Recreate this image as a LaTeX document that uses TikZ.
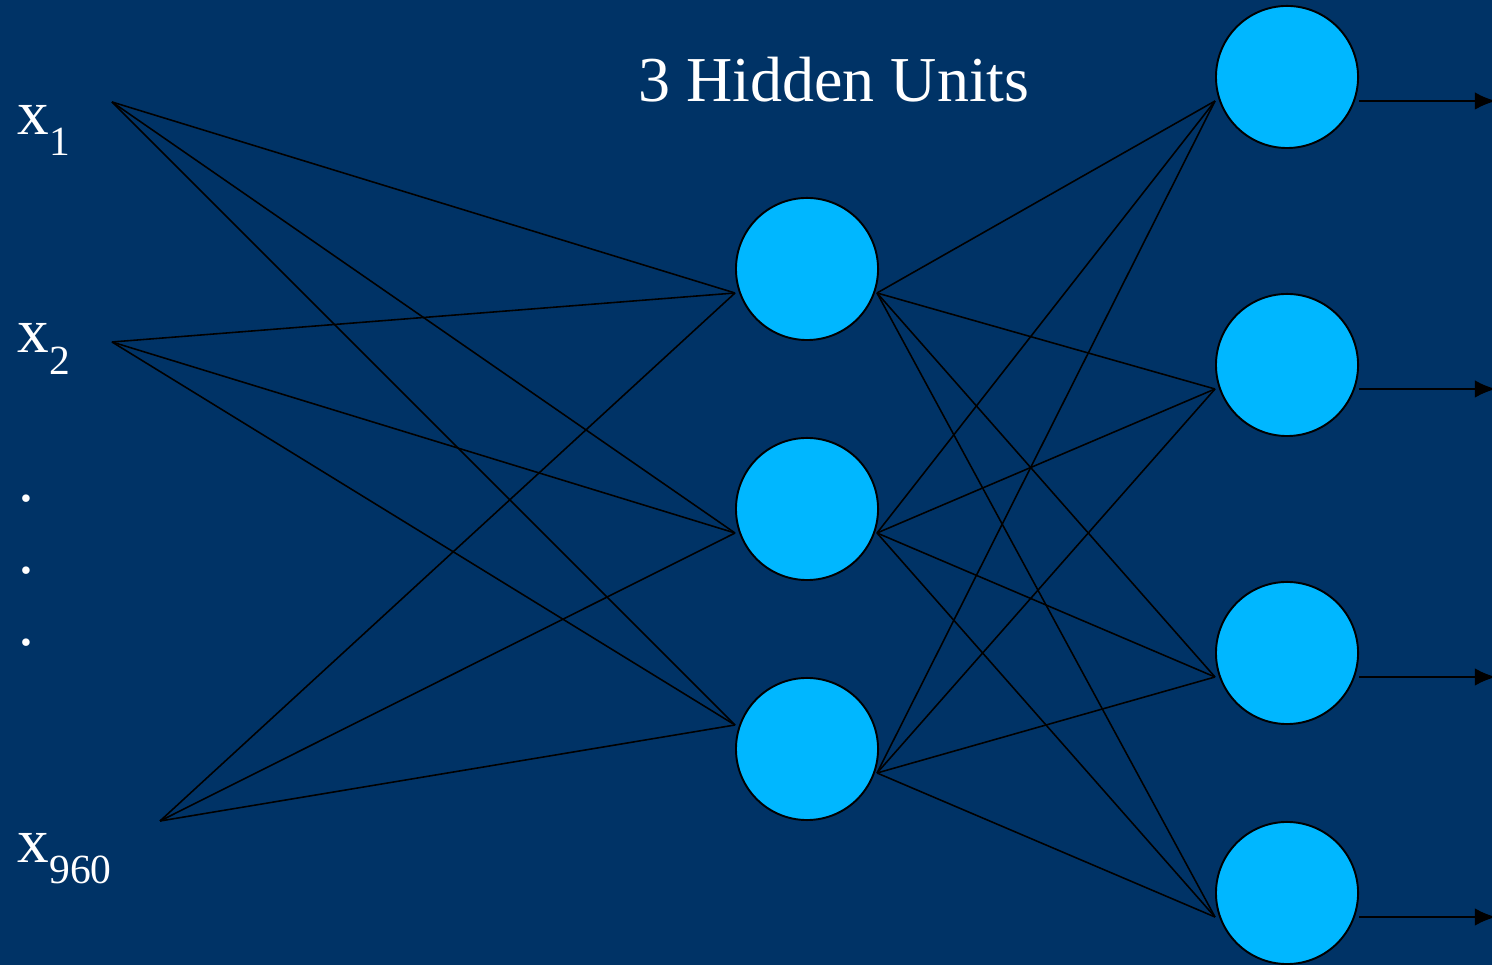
\documentclass[tikz,border=0pt]{standalone}
\usepackage{fontspec}
\setmainfont{Liberation Serif}
\usepackage{tikz}
\usetikzlibrary{arrows.meta,positioning,calc}
\definecolor{slidebg}{RGB}{0,51,102}
\definecolor{unitfill}{RGB}{0,183,255}
\newcommand{\lowidx}[1]{\raisebox{-0.21cm}{\fontsize{11.8}{12}\selectfont #1}}
\tikzset{
	unit/.style = {
		draw=black,
		fill=unitfill,
		circle,
		minimum size=1.42cm,
		line width=0.55pt,
		inner sep=0pt
	},
	weight/.style = {
		black,
		line width=0.45pt
	},
	outsig/.style = {
		-{Latex[length=6pt,width=5pt]},
		black,
		line width=0.8pt
	},
	inlabel/.style = {
		text=white,
		font=\fontsize{18}{19}\selectfont,
		anchor=base west,
		inner sep=0pt
	}
}
\begin{document}
\begin{tikzpicture}[x=0.01cm,y=-0.01cm]

	% --- FONDO ---
	\fill[slidebg] (0,0) rectangle (1492,965);
	\useasboundingbox (0,0) rectangle (1492,965);

	% --- ENTRADAS ---
	\node[inlabel] (lx1) at (17,135) {x\lowidx{1}};
	\node[inlabel] (lx2) at (17,353) {x\lowidx{2}};
	\node[inlabel] (lx960) at (17,862) {x\lowidx{960}};
	\node[inlabel] (dot1) at (18,502) {.};
	\node[inlabel] (dot2) at (18,574) {.};
	\node[inlabel] (dot3) at (18,646) {.};
	\coordinate (in1) at (112,102);
	\coordinate (in2) at (112,342);
	\coordinate (in3) at (160,821);

	% --- CAPA OCULTA ---
	\node[unit] (h1) at (807,269) {};
	\node[unit] (h2) at (807,509) {};
	\node[unit] (h3) at (807,749) {};
	\node[text=white, font=\fontsize{18.2}{19}\selectfont] (title) at (834,80) {3 Hidden Units};

	% puntos de contacto de la capa oculta
	\coordinate (h1in) at (735,293);
	\coordinate (h2in) at (735,533);
	\coordinate (h3in) at (735,725);
	\coordinate (h1out) at (877,293);
	\coordinate (h2out) at (877,533);
	\coordinate (h3out) at (877,773);

	% --- CAPA DE SALIDA ---
	\node[unit] (o1) at (1287,77) {};
	\node[unit] (o2) at (1287,365) {};
	\node[unit] (o3) at (1287,653) {};
	\node[unit] (o4) at (1287,893) {};
	\foreach \k/\yy in {1/101,2/389,3/677,4/917} {
		\coordinate (o\k in) at (1215,\yy);
		\coordinate (o\k out) at (1359,\yy);
		\coordinate (y\k) at (1496,\yy);
	}

	% --- CONEXIONES ---
	% Entradas -> capa oculta
	\foreach \i in {1,2,3}
		\foreach \j in {1,2,3}
			\draw[weight] (in\i) -- (h\j in);

	% Capa oculta -> salidas
	\foreach \j in {1,2,3}
		\foreach \k in {1,2,3,4}
			\draw[weight] (h\j out) -- (o\k in);

	% Salidas
	\foreach \k in {1,2,3,4}
		\draw[outsig] (o\k out) -- (y\k);

\end{tikzpicture}
\end{document}
